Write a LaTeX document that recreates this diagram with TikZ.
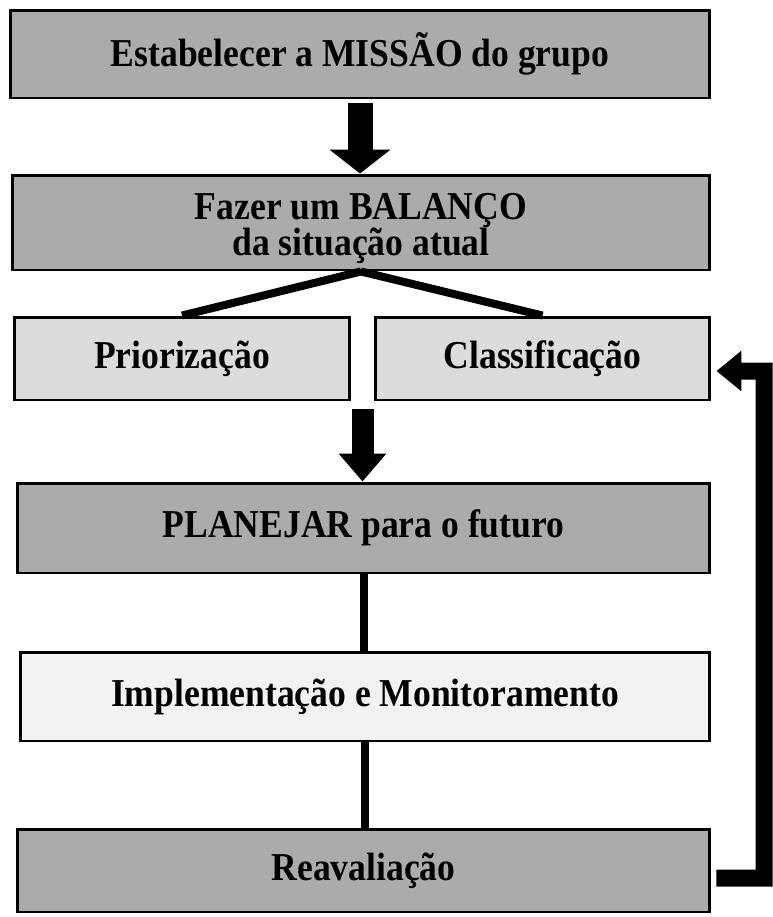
\documentclass[tikz,border=0pt]{standalone}
\usepackage{fontspec}
\setmainfont{Liberation Serif}[FakeStretch=0.9]
\usetikzlibrary{arrows.meta,calc}
\definecolor{boxdark}{HTML}{ABABAB}
\definecolor{boxlight}{HTML}{DCDCDC}
\definecolor{boxpale}{HTML}{F2F2F2}
\begin{document}
\begin{tikzpicture}[x=0.02cm,y=-0.02cm,
  box/.style={draw,line width=1.7pt,inner sep=0pt,align=center,
    font=\bfseries\fontsize{22.5}{21}\selectfont},
  bigarrow/.style={line width=0.5cm,-{Triangle[width=1.2cm,length=0.48cm]}},
  midarrow/.style={line width=0.44cm,-{Triangle[width=0.92cm,length=0.56cm]}},
  link/.style={line width=0.16cm},
  backarrow/.style={line width=0.34cm,-{Triangle[width=0.78cm,length=0.5cm]}}]
  \useasboundingbox (0,0) rectangle (772,917);
  % boxes
  \node[box,fill=boxdark,minimum width=14cm,minimum height=1.76cm] (mission) at (360,54) {Estabelecer a MISSÃO do grupo};
  \node[box,fill=boxdark,minimum width=13.96cm,minimum height=1.9cm] (balanco) at (361,222.5) {};
  \node[box,draw=none] (balancotext) at ([yshift=-0.12cm]balanco.center) {Fazer um BALANÇO\\da situação atual};
  \node[box,fill=boxlight,minimum width=6.72cm,minimum height=1.66cm] (prior) at (182,358.5) {Priorização};
  \node[box,fill=boxlight,minimum width=6.7cm,minimum height=1.66cm] (classif) at (542.5,358.5) {Classificação};
  \node[box,fill=boxdark,minimum width=13.86cm,minimum height=1.8cm] (planejar) at (363.5,528) {PLANEJAR para o futuro};
  \node[box,fill=boxpale,minimum width=13.8cm,minimum height=1.78cm] (implem) at (365,696.5) {Implementação e Monitoramento};
  \node[box,fill=boxdark,minimum width=13.86cm,minimum height=1.66cm] (reaval) at (363.5,870.5) {Reavaliação};
  % connectors
  \draw[bigarrow] ([yshift=-0.08cm]mission.south) -- (mission.south |- balanco.north);
  \draw[link] (balanco.south) -- (prior.north);
  \draw[link] (balanco.south) -- (classif.north);
  \coordinate (gap) at ($(prior.south east)!0.5!(classif.south west)$);
  \draw[midarrow] ([yshift=-0.16cm]gap) -- (gap |- planejar.north);
  \draw[link] (planejar.south) -- (planejar.south |- implem.north);
  \draw[link] (implem.south) -- (implem.south |- reaval.north);
  \coordinate (turn) at (764,371); % feedback loop corner
  \draw[backarrow] ([xshift=0.1cm,yshift=-0.15cm]reaval.east) -| (turn) -- ([xshift=0.1cm,yshift=-0.25cm]classif.east);
\end{tikzpicture}
\end{document}
